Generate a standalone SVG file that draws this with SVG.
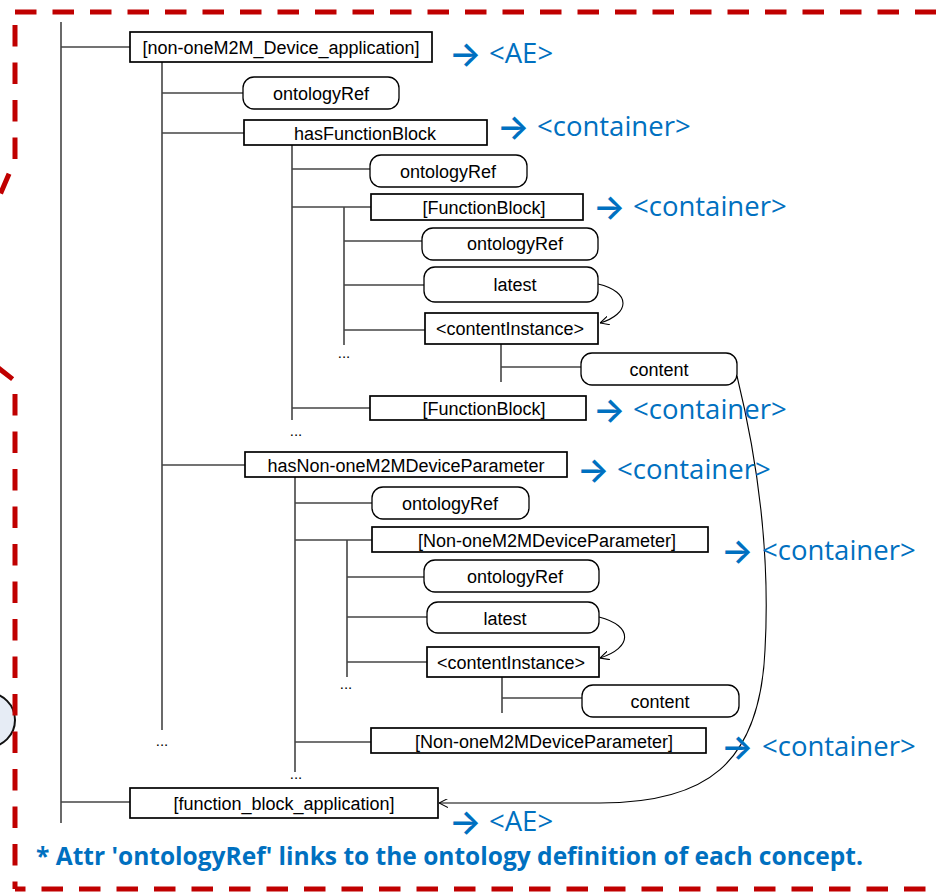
<svg xmlns="http://www.w3.org/2000/svg" width="936" height="893" viewBox="0 0 936 893">
  <style>
    .box { fill: #fff; stroke: #000; stroke-width: 1.7; }
    .rbox { fill: #fff; stroke: #000; stroke-width: 1.3; }
    .lbl { font-family: "Liberation Sans", Arial, sans-serif; font-size: 18px; fill: #000; text-anchor: middle; }
    .dots { font-family: "Liberation Sans", Arial, sans-serif; font-size: 15px; fill: #000; text-anchor: middle; }
    .wire { stroke: #444; stroke-width: 1.6; fill: none; }
    .link { stroke: #000; stroke-width: 1.1; fill: none; marker-end: url(#open); }
    .res { font-family: "Open Sans", "Liberation Sans", sans-serif; font-size: 27.5px; fill: #0070C0; }
    .arr { font-family: Inter, "DejaVu Sans", sans-serif; font-size: 34px; font-weight: 600; fill: #0070C0; }
    .note { font-family: "Open Sans", "Liberation Sans", sans-serif; font-size: 24.5px; font-weight: bold; fill: #0070C0; }
    .frame { stroke: #C00000; stroke-width: 5; fill: none; stroke-dasharray: 21.5 16; }
  </style>
  <defs>
    <marker id="open" viewBox="0 0 10 10" refX="10" refY="5" markerWidth="9" markerHeight="9" markerUnits="userSpaceOnUse" orient="auto">
      <path d="M0,0 L10,5 L0,10" fill="none" stroke="#000" stroke-width="1.2"/>
    </marker>
  </defs>

  <rect width="936" height="893" fill="#fff"/>

  <!-- partly visible neighbour node at the left edge -->
  <circle id="edge-node" cx="-12" cy="720" r="27" fill="#E6ECF5" stroke="#111" stroke-width="2"/>

  <!-- red dashed grouping frame -->
  <g id="frame">
    <path class="frame" d="M15 12 H940"/>
    <path class="frame" d="M15 25 V160 L-16 232"/>
    <path class="frame" d="M15 889 H940" stroke-dashoffset="11"/>
    <path class="frame" d="M15 889 V381 L-22 352" stroke-dashoffset="14"/>
  </g>

  <!-- tree connectors -->
  <g id="connectors">
    <path class="wire" d="M61 22 V823"/>
    <path class="wire" d="M61 47 H130"/>
    <path class="wire" d="M61 802 H130"/>
    <path class="wire" d="M162 62 V730"/>
    <path class="wire" d="M162 93 H243"/>
    <path class="wire" d="M162 133 H244"/>
    <path class="wire" d="M162 465 H245"/>
    <path class="wire" d="M292 145 V420"/>
    <path class="wire" d="M292 169 H370"/>
    <path class="wire" d="M292 207 H371"/>
    <path class="wire" d="M292 408 H370"/>
    <path class="wire" d="M344 207 V345"/>
    <path class="wire" d="M344 241 H422"/>
    <path class="wire" d="M344 285 H424"/>
    <path class="wire" d="M344 330 H425"/>
    <path class="wire" d="M501 344 V382"/>
    <path class="wire" d="M501 367 H581"/>
    <path class="wire" d="M295 477 V772"/>
    <path class="wire" d="M295 503 H372"/>
    <path class="wire" d="M295 540 H372"/>
    <path class="wire" d="M295 742 H371"/>
    <path class="wire" d="M347 540 V677"/>
    <path class="wire" d="M347 577 H424"/>
    <path class="wire" d="M347 617 H427"/>
    <path class="wire" d="M347 662 H427"/>
    <path class="wire" d="M502 677 V713"/>
    <path class="wire" d="M502 698 H582"/>
    <!-- latest -> contentInstance -->
    <path class="link" d="M598 284 C632 292, 630 314, 600 323"/>
    <path class="link" d="M599 617 C634 626, 632 648, 600 658"/>
    <!-- content -> function_block_application -->
    <path class="link" d="M737 376 C760 470, 770 560, 765 650 C760 765, 705 803, 600 803 L439 803"/>
  </g>

  <!-- continuation marks -->
  <g id="more">
    <text class="dots" x="344" y="358">...</text>
    <text class="dots" x="296" y="436">...</text>
    <text class="dots" x="346" y="689">...</text>
    <text class="dots" x="162" y="746">...</text>
    <text class="dots" x="296" y="779">...</text>
  </g>

  <!-- nodes -->
  <g id="n-device-app">
    <rect class="box" x="130" y="32" width="302" height="30"/>
    <text class="lbl" x="281" y="54">[non-oneM2M_Device_application]</text>
  </g>
  <g id="n-ontologyref-1">
    <rect class="rbox" x="243" y="77" width="156" height="32" rx="11"/>
    <text class="lbl" x="321" y="100">ontologyRef</text>
  </g>
  <g id="n-hasfunctionblock">
    <rect class="box" x="244" y="120" width="243" height="25"/>
    <text class="lbl" x="365" y="139.5">hasFunctionBlock</text>
  </g>
  <g id="n-ontologyref-2">
    <rect class="rbox" x="370" y="155" width="157" height="32" rx="11"/>
    <text class="lbl" x="448" y="178">ontologyRef</text>
  </g>
  <g id="n-functionblock-1">
    <rect class="box" x="371" y="194" width="212" height="26"/>
    <text class="lbl" x="484" y="214">[FunctionBlock]</text>
  </g>
  <g id="n-ontologyref-3">
    <rect class="rbox" x="422" y="228" width="176" height="32" rx="11"/>
    <text class="lbl" x="515" y="250">ontologyRef</text>
  </g>
  <g id="n-latest-1">
    <rect class="rbox" x="424" y="267" width="174" height="35" rx="11"/>
    <text class="lbl" x="515" y="291">latest</text>
  </g>
  <g id="n-contentinstance-1">
    <rect class="box" x="425" y="313" width="173" height="31"/>
    <text class="lbl" x="510" y="335">&lt;contentInstance&gt;</text>
  </g>
  <g id="n-content-1">
    <rect class="rbox" x="581" y="353" width="156" height="32" rx="11"/>
    <text class="lbl" x="659" y="376">content</text>
  </g>
  <g id="n-functionblock-2">
    <rect class="box" x="370" y="396" width="216" height="24"/>
    <text class="lbl" x="484" y="415">[FunctionBlock]</text>
  </g>
  <g id="n-hasparameter">
    <rect class="box" x="245" y="452" width="322" height="25"/>
    <text class="lbl" x="406" y="471.5">hasNon-oneM2MDeviceParameter</text>
  </g>
  <g id="n-ontologyref-4">
    <rect class="rbox" x="372" y="487" width="157" height="32" rx="11"/>
    <text class="lbl" x="450" y="510">ontologyRef</text>
  </g>
  <g id="n-parameter-1">
    <rect class="box" x="372" y="527" width="336" height="25"/>
    <text class="lbl" x="547" y="546.5">[Non-oneM2MDeviceParameter]</text>
  </g>
  <g id="n-ontologyref-5">
    <rect class="rbox" x="424" y="560" width="175" height="32" rx="11"/>
    <text class="lbl" x="515" y="583">ontologyRef</text>
  </g>
  <g id="n-latest-2">
    <rect class="rbox" x="427" y="602" width="172" height="31" rx="11"/>
    <text class="lbl" x="505" y="624.5">latest</text>
  </g>
  <g id="n-contentinstance-2">
    <rect class="box" x="427" y="647" width="172" height="30"/>
    <text class="lbl" x="511" y="669">&lt;contentInstance&gt;</text>
  </g>
  <g id="n-content-2">
    <rect class="rbox" x="582" y="685" width="157" height="32" rx="11"/>
    <text class="lbl" x="660" y="708">content</text>
  </g>
  <g id="n-parameter-2">
    <rect class="box" x="371" y="728" width="335" height="25"/>
    <text class="lbl" x="544" y="747.5">[Non-oneM2MDeviceParameter]</text>
  </g>
  <g id="n-function-block-app">
    <rect class="box" x="130" y="788" width="308" height="30"/>
    <text class="lbl" x="284" y="810">[function_block_application]</text>
  </g>

  <!-- resource type mappings -->
  <g id="map-ae-1"><text class="arr" x="449" y="66">→</text><text class="res" x="489" y="63">&lt;AE&gt;</text></g>
  <g id="map-container-1"><text class="arr" x="497" y="139">→</text><text class="res" x="537" y="136">&lt;container&gt;</text></g>
  <g id="map-container-2"><text class="arr" x="593" y="219">→</text><text class="res" x="633" y="216">&lt;container&gt;</text></g>
  <g id="map-container-3"><text class="arr" x="593" y="422">→</text><text class="res" x="633" y="419">&lt;container&gt;</text></g>
  <g id="map-container-4"><text class="arr" x="577" y="482">→</text><text class="res" x="617" y="479">&lt;container&gt;</text></g>
  <g id="map-container-5"><text class="arr" x="721" y="563">→</text><text class="res" x="762" y="560">&lt;container&gt;</text></g>
  <g id="map-container-6"><text class="arr" x="721" y="759">→</text><text class="res" x="762" y="756">&lt;container&gt;</text></g>
  <g id="map-ae-2"><text class="arr" x="449" y="834">→</text><text class="res" x="489" y="831">&lt;AE&gt;</text></g>

  <text class="note" x="36" y="865" textLength="827" lengthAdjust="spacingAndGlyphs">* Attr 'ontologyRef' links to the ontology definition of each concept.</text>
</svg>
